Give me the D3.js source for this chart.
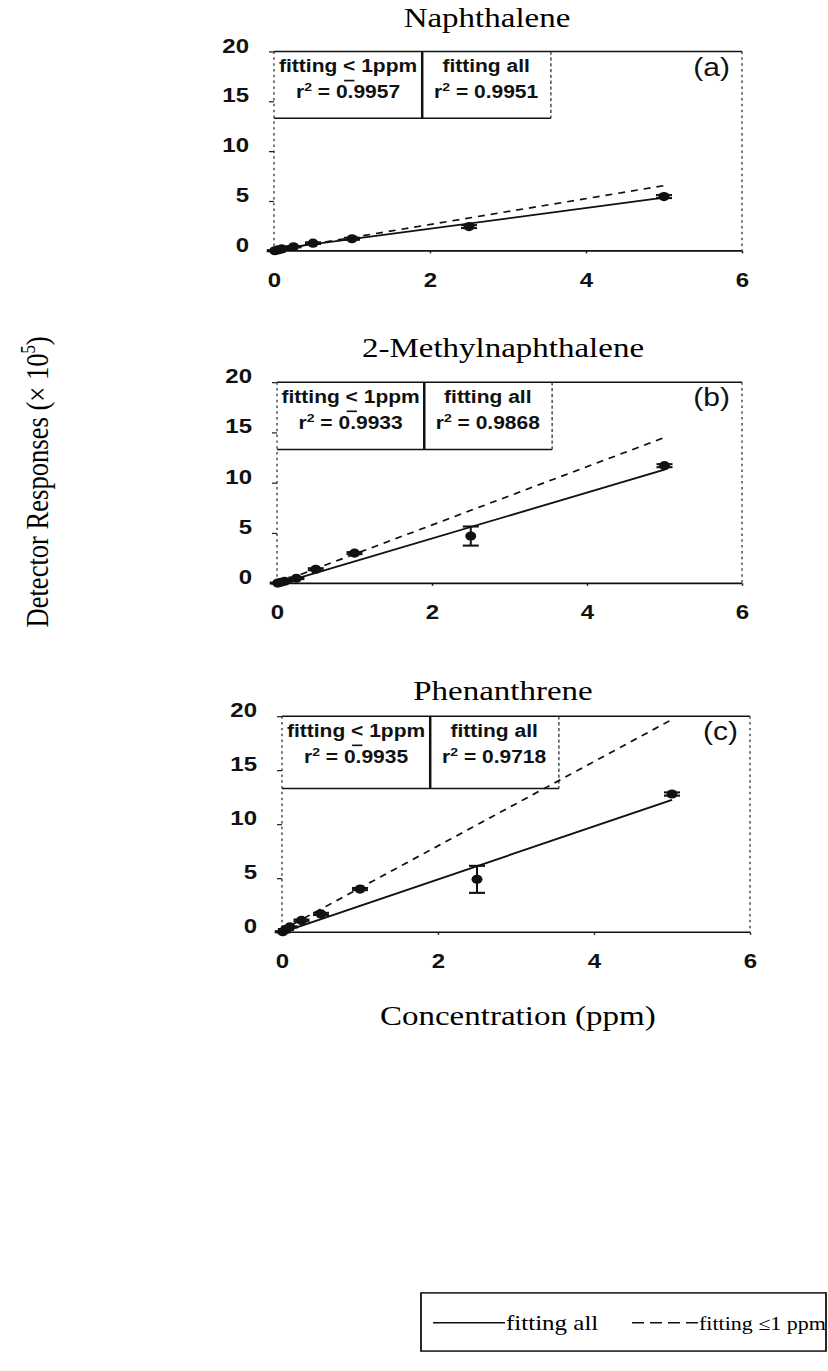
<!DOCTYPE html>
<html>
<head>
<meta charset="utf-8">
<script src="https://cdn.jsdelivr.net/npm/d3@7"></script>
<style>
  body { margin: 0; background: #fff; }
  svg { display: block; }
</style>
</head>
<body>
<div id="chart"></div>
<script>
// values
const concentration = [0.01, 0.05, 0.1, 0.25, 0.5, 1, 2.5, 5];
const naphthalene = [0.02, 0.1, 0.2, 0.42, 0.78, 1.22, 2.44, 5.45];
const naphthaleneErr = [0.05, 0.05, 0.05, 0.06, 0.08, 0.1, 0.15, 0.15];
const methylnaph = [0.02, 0.1, 0.2, 0.5, 1.4, 3.0, 4.7, 11.7];
const methylnaphErr = [0.05, 0.05, 0.05, 0.08, 0.1, 0.1, 0.95, 0.15];
const phenanthrene = [0.05, 0.25, 0.5, 1.1, 1.7, 4.0, 4.9, 12.8];
const phenanthreneErr = [0.05, 0.05, 0.05, 0.08, 0.1, 0.1, 1.25, 0.15];

// fitted lines, response at x = 0 and x = 5 ppm
const fitX = [0, 5];
const fitAll = [[0.15, 5.35], [-0.1, 11.3], [0.0, 12.25]];
const fitLow = [[0.05, 6.55], [0.0, 14.5], [0.2, 19.7]];

const r2Low = ["0.9957", "0.9933", "0.9935"];
const r2All = ["0.9951", "0.9868", "0.9718"];
const titles = ["Naphthalene", "2-Methylnaphthalene", "Phenanthrene"];
const tags = ["(a)", "(b)", "(c)"];
const xTicks = [0, 2, 4, 6];
const yTicks = [0, 5, 10, 15, 20];

const series = [naphthalene, methylnaph, phenanthrene];
const errors = [naphthaleneErr, methylnaphErr, phenanthreneErr];

const W = 828, H = 1371;
const srcH = 1650;              // layout drawn in scan units, squeezed to the page
const sans = "'Liberation Sans', Arial, sans-serif";
const serif = "'Liberation Serif', 'Times New Roman', serif";

const panels = [
  {left: 274, right: 742, top: 62,  bottom: 302,  titleX: 487, titleY: 33},
  {left: 277, right: 742, top: 460, bottom: 702,  titleX: 503, titleY: 430},
  {left: 282, right: 750, top: 862, bottom: 1122, titleX: 503, titleY: 843}
];

const svg = d3.select('#chart').append("svg")
              .attr("width", W)
              .attr("height", H);
svg.append("rect").attr("width", W).attr("height", H).attr("fill", "#fff");

const root = svg.append("g").attr("transform", `scale(1, ${H / srcH})`);

panels.forEach((p, i) => {
    const x = d3.scaleLinear().domain([0, 6]).range([p.left, p.right]);
    const y = d3.scaleLinear().domain([0, 20]).range([p.bottom, p.top]);
    const g = root.append("g");

    g.append("text")
     .attr("x", p.titleX).attr("y", p.titleY)
     .attr("text-anchor", "middle")
     .style("font-family", serif).style("font-size", "33px")
     .text(titles[i]);

    // axes
    const ya = g.append("g")
                .attr("transform", `translate(${p.left},0)`)
                .call(d3.axisLeft(y).tickValues(yTicks).tickFormat(d3.format("d"))
                        .tickSizeInner(5).tickSizeOuter(0).tickPadding(20));
    const xa = g.append("g")
                .attr("transform", `translate(0,${p.bottom})`)
                .call(d3.axisBottom(x).tickValues(xTicks).tickFormat(d3.format("d"))
                        .tickSizeInner(3).tickSizeOuter(0).tickPadding(23));
    [ya, xa].forEach(a => {
        a.select(".domain").remove();
        a.selectAll("line").attr("stroke", "#222").attr("stroke-width", 1.5);
        a.selectAll("text")
         .attr("fill", "#111")
         .style("font-family", sans).style("font-size", "24px").style("font-weight", "bold");
    });
    ya.selectAll("text").attr("y", -7);

    // plot frame: solid top and bottom, faint dotted sides
    g.append("line").attr("x1", x(0)).attr("x2", x(6)).attr("y1", y(0)).attr("y2", y(0))
     .attr("stroke", "#111").attr("stroke-width", 2);
    g.append("line").attr("x1", x(0)).attr("x2", x(6)).attr("y1", y(20)).attr("y2", y(20))
     .attr("stroke", "#111").attr("stroke-width", 1.8);
    [0, 6].forEach(v => {
        g.append("line").attr("x1", x(v)).attr("x2", x(v)).attr("y1", y(20)).attr("y2", y(0))
         .attr("stroke", "#333").attr("stroke-width", 1.3).attr("stroke-dasharray", "3,4");
    });

    // r-squared box
    const bx0 = x(0), bx1 = x(1.9), bx2 = x(3.55), by0 = y(20), by1 = y(13.3);
    g.append("line").attr("x1", bx0).attr("x2", bx2).attr("y1", by1).attr("y2", by1)
     .attr("stroke", "#111").attr("stroke-width", 1.8);
    g.append("line").attr("x1", bx1).attr("x2", bx1).attr("y1", by0).attr("y2", by1)
     .attr("stroke", "#111").attr("stroke-width", 2.5);
    g.append("line").attr("x1", bx2).attr("x2", bx2).attr("y1", by0).attr("y2", by1)
     .attr("stroke", "#333").attr("stroke-width", 1.3).attr("stroke-dasharray", "4,3");

    const c1 = x(0.95), c2 = x(2.72);
    const row1 = by0 + 25, row2 = by0 + 56;
    const boxText = (cx, cy, str) => g.append("text")
        .attr("x", cx).attr("y", cy).attr("text-anchor", "middle")
        .attr("fill", "#111")
        .style("font-family", sans).style("font-size", "21px").style("font-weight", "bold")
        .text(str);
    const t1 = boxText(c1, row1, "fitting < 1ppm");
    boxText(c2, row1, "fitting all");
    const r1 = boxText(c1, row2, "");
    r1.append("tspan").text("r");
    r1.append("tspan").attr("font-size", "14px").attr("dy", -8).text("2");
    r1.append("tspan").attr("dy", 8).text(" = " + r2Low[i]);
    const r2 = boxText(c2, row2, "");
    r2.append("tspan").text("r");
    r2.append("tspan").attr("font-size", "14px").attr("dy", -8).text("2");
    r2.append("tspan").attr("dy", 8).text(" = " + r2All[i]);

    // the bar under "<" (≤)
    const node = t1.node();
    const full = node.getComputedTextLength();
    const sx = c1 - full / 2 + node.getSubStringLength(0, 8);
    const sw = node.getSubStringLength(8, 1);
    g.append("line").attr("x1", sx + 1).attr("x2", sx + sw - 1)
     .attr("y1", row1 + 10).attr("y2", row1 + 10)
     .attr("stroke", "#111").attr("stroke-width", 2);

    g.append("text")
     .attr("x", p.right - 12).attr("y", by0 + 29)
     .attr("text-anchor", "end").attr("fill", "#111")
     .style("font-family", sans).style("font-size", "30px")
     .text(tags[i]);

    // fitted lines
    const line = d3.line().x(d => x(d[0])).y(d => y(d[1]));
    g.append("path")
     .attr("d", line(fitX.map((v, k) => [v, fitLow[i][k]])))
     .attr("fill", "none").attr("stroke", "#111").attr("stroke-width", 2)
     .attr("stroke-dasharray", "7,6");
    g.append("path")
     .attr("d", line(fitX.map((v, k) => [v, fitAll[i][k]])))
     .attr("fill", "none").attr("stroke", "#111").attr("stroke-width", 2.2);

    // data points with error bars
    const pts = concentration.map((c, k) => ({c: c, v: series[i][k], e: errors[i][k]}));
    const eb = g.selectAll("g.err").data(pts).enter().append("g").attr("class", "err");
    eb.append("line")
      .attr("x1", d => x(d.c)).attr("x2", d => x(d.c))
      .attr("y1", d => y(d.v - d.e)).attr("y2", d => y(d.v + d.e))
      .attr("stroke", "#111").attr("stroke-width", 2);
    [-1, 1].forEach(s => {
        eb.append("line")
          .attr("x1", d => x(d.c) - 8).attr("x2", d => x(d.c) + 8)
          .attr("y1", d => y(d.v + s * d.e)).attr("y2", d => y(d.v + s * d.e))
          .attr("stroke", "#111").attr("stroke-width", 2.5);
    });
    g.selectAll("circle")
     .data(pts)
     .enter()
     .append("circle")
     .attr("cx", d => x(d.c))
     .attr("cy", d => y(d.v))
     .attr("r", 5.5)
     .style("fill", "#111");
});

// shared axis titles
root.append("text")
    .attr("transform", "translate(48,580) rotate(-90)")
    .attr("text-anchor", "middle")
    .style("font-family", serif).style("font-size", "32px")
    .call(t => {
        t.append("tspan").text("Detector Responses (× 10");
        t.append("tspan").attr("font-size", "20px").attr("dy", -13).text("5");
        t.append("tspan").attr("dy", 13).text(")");
    });

root.append("text")
    .attr("x", 380).attr("y", 1233)
    .style("font-family", serif).style("font-size", "33px")
    .text("Concentration (ppm)");

// legend
const lg = root.append("g");
lg.append("rect")
  .attr("x", 421).attr("y", 1556).attr("width", 405).attr("height", 70)
  .attr("fill", "none").attr("stroke", "#111").attr("stroke-width", 1.8);
lg.append("line").attr("x1", 433).attr("x2", 505).attr("y1", 1592).attr("y2", 1592)
  .attr("stroke", "#111").attr("stroke-width", 1.8);
lg.append("text").attr("x", 506).attr("y", 1601)
  .style("font-family", serif).style("font-size", "25px").text("fitting all");
lg.append("line").attr("x1", 632).attr("x2", 698).attr("y1", 1592).attr("y2", 1592)
  .attr("stroke", "#111").attr("stroke-width", 1.8).attr("stroke-dasharray", "12,6");
lg.append("text").attr("x", 699).attr("y", 1601)
  .style("font-family", serif).style("font-size", "22px").text("fitting ≤1 ppm");
</script>
</body>
</html>
